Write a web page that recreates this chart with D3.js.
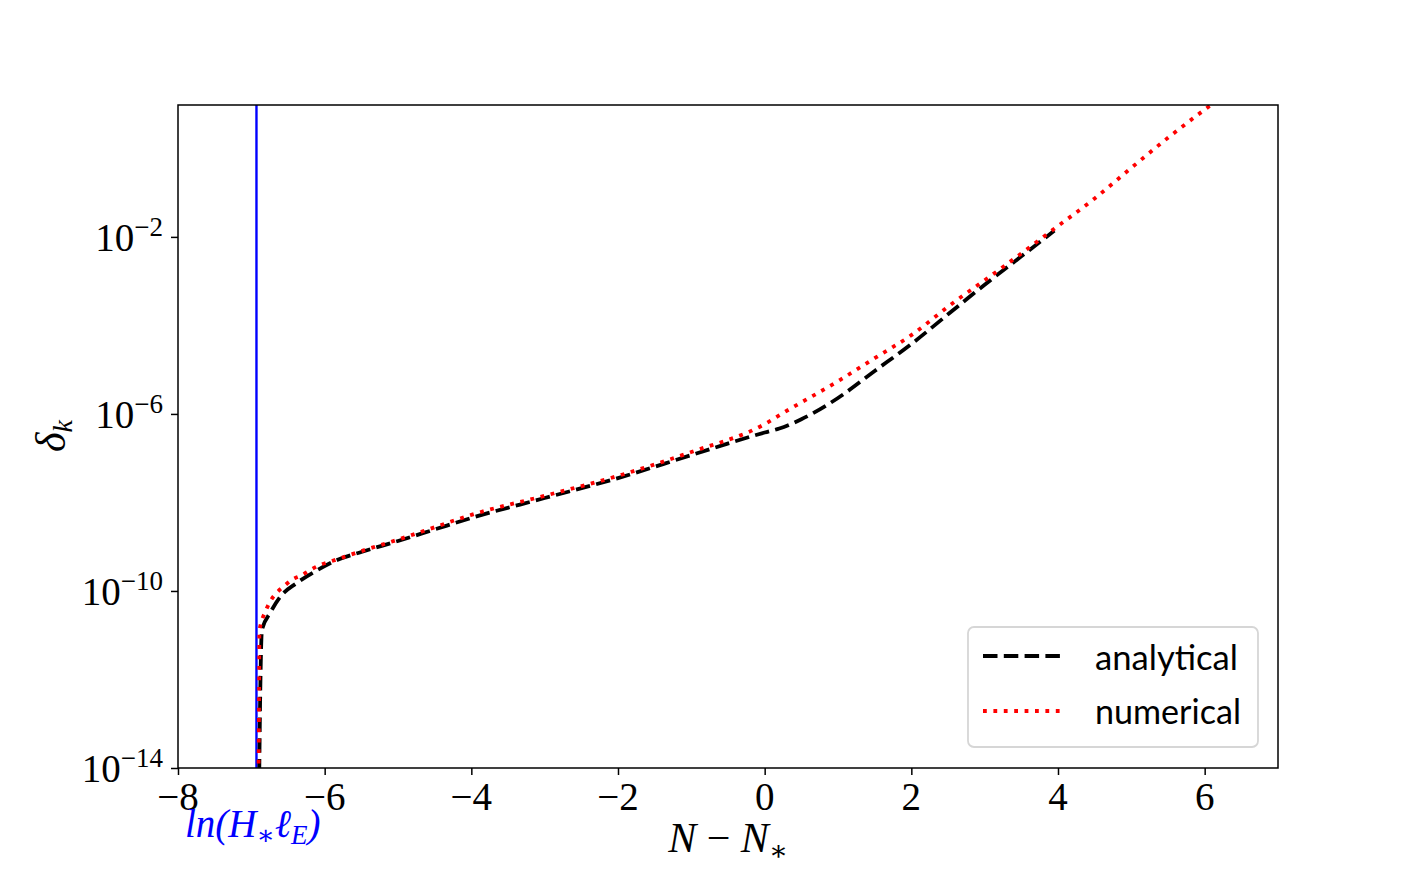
<!DOCTYPE html>
<html>
<head>
<meta charset="utf-8">
<script src="https://cdn.jsdelivr.net/npm/d3@7"></script>
<style>
  html, body { margin: 0; padding: 0; background: #fff; }
  svg { display: block; }
</style>
</head>
<body>
<svg id="chart" width="1420" height="878"></svg>
<script>
// ---- data ----
const analyticalX = [-6.895, -6.88, -6.855, -6.745, -6.61, -6.38, -6.10, -5.83, -5.5, -5.0, -4.5, -4.0, -3.0, -2.0, -1.0, 0.0, 0.2, 0.5, 1.0, 1.5, 2.0, 2.5, 3.0, 3.5, 3.95];
const analyticalLog10 = [-14.6, -12.46, -10.88, -10.50, -10.14, -9.82, -9.53, -9.30, -9.12, -8.87, -8.61, -8.35, -7.90, -7.45, -6.93, -6.42, -6.33, -6.12, -5.64, -5.03, -4.42, -3.75, -3.08, -2.44, -1.86];
const numericalX = [-6.905, -6.895, -6.89, -6.86, -6.81, -6.745, -6.66, -6.56, -6.45, -6.31, -6.20, -6.06, -5.93, -5.5, -5.0, -4.5, -4.0, -3.0, -2.0, -1.0, 0.0, 0.25, 1.03, 1.5, 2.0, 2.53, 3.25, 3.93, 4.5, 5.0, 5.5, 6.1];
const numericalLog10 = [-14.6, -12.46, -10.92, -10.69, -10.47, -10.24, -10.05, -9.90, -9.75, -9.64, -9.53, -9.41, -9.34, -9.10, -8.84, -8.56, -8.28, -7.85, -7.40, -6.86, -6.23, -5.98, -5.23, -4.74, -4.22, -3.54, -2.68, -1.84, -1.13, -0.44, 0.24, 1.0];
const markerX = -6.93;           // ln(H_* l_E)
const xTicks = [-8, -6, -4, -2, 0, 2, 4, 6];
const yTickExps = [-14, -10, -6, -2];
const legendLabels = ["analytical", "numerical"];

// ---- layout ----
const svg = d3.select("#chart");
const L = 178, R = 1278, T = 105, B = 768;
const x = d3.scaleLinear().domain([-8, 7]).range([L, R]);
const y = d3.scaleLog().domain([1e-14, Math.pow(10, 0.98)]).range([B, T]);
const serif = "'Liberation Serif', 'DejaVu Serif', serif";
const sans = "Lato, 'Open Sans', 'DejaVu Sans', sans-serif";

svg.append("defs").append("clipPath").attr("id", "clip")
  .append("rect").attr("x", L).attr("y", T).attr("width", R - L).attr("height", B - T);

const line = d3.line().curve(d3.curveMonotoneX)
  .x(d => x(d[0])).y(d => y(Math.pow(10, d[1])));
const plot = svg.append("g").attr("clip-path", "url(#clip)");

// blue vertical marker
plot.append("line")
  .attr("x1", x(markerX)).attr("x2", x(markerX))
  .attr("y1", T).attr("y2", B)
  .attr("stroke", "#0000ff").attr("stroke-width", 2.4);

plot.append("path")
  .datum(analyticalX.map((v, i) => [v, analyticalLog10[i]]))
  .attr("d", line).attr("fill", "none")
  .attr("stroke", "#000").attr("stroke-width", 3.8)
  .attr("stroke-dasharray", "14.5,6.3");

plot.append("path")
  .datum(numericalX.map((v, i) => [v, numericalLog10[i]]))
  .attr("d", line).attr("fill", "none")
  .attr("stroke", "#ff0000").attr("stroke-width", 3.8)
  .attr("stroke-dasharray", "3.8,6.6");

// axes
const xAxis = d3.axisBottom(x).tickValues(xTicks).tickSize(7).tickFormat("");
const gx = svg.append("g").attr("transform", `translate(0,${B})`).call(xAxis);
const yAxis = d3.axisLeft(y).tickValues(yTickExps.map(e => Math.pow(10, e))).tickSize(7).tickFormat("");
const gy = svg.append("g").attr("transform", `translate(${L},0)`).call(yAxis);
[gx, gy].forEach(g => {
  g.select(".domain").remove();
  g.selectAll(".tick line").attr("stroke", "#000").attr("stroke-width", 1.5);
});

// frame
svg.append("rect").attr("x", L).attr("y", T).attr("width", R - L).attr("height", B - T)
  .attr("fill", "none").attr("stroke", "#000").attr("stroke-width", 1.5);

// x tick labels
xTicks.forEach(t => {
  svg.append("text")
    .attr("x", x(t)).attr("y", 810)
    .attr("text-anchor", "middle")
    .attr("font-family", serif).attr("font-size", 39)
    .text(t < 0 ? "\u2212" + Math.abs(t) : String(t));
});

// y tick labels 10^e
yTickExps.forEach(e => {
  const ty = y(Math.pow(10, e));
  const t = svg.append("text")
    .attr("x", 163).attr("y", ty + 14)
    .attr("text-anchor", "end")
    .attr("font-family", serif).attr("font-size", 39);
  t.append("tspan").text("10");
  t.append("tspan").attr("font-size", 27).attr("dy", -15).text("\u2212" + Math.abs(e));
});

// axis labels
const xl = svg.append("text")
  .attr("x", 728).attr("y", 852).attr("text-anchor", "middle")
  .attr("font-family", serif).attr("font-size", 42);
xl.append("tspan").attr("font-style", "italic").text("N");
xl.append("tspan").text(" \u2212 ");
xl.append("tspan").attr("font-style", "italic").text("N");
xl.append("tspan").attr("font-size", 28).attr("dy", 8).text("\u2217");

const yl = svg.append("text")
  .attr("transform", "translate(65,436) rotate(-90)")
  .attr("text-anchor", "middle")
  .attr("font-family", serif).attr("font-size", 42);
yl.append("tspan").attr("font-style", "italic").text("\u03b4");
yl.append("tspan").attr("font-style", "italic").attr("font-size", 28).attr("dy", 7).text("k");

// blue annotation
const bl = svg.append("text")
  .attr("x", 185).attr("y", 837)
  .attr("font-family", serif).attr("font-size", 39).attr("fill", "#0000ff")
  .attr("font-style", "italic");
bl.append("tspan").text("ln(H");
bl.append("tspan").attr("font-size", 27).attr("dy", 7).text("\u2217");
bl.append("tspan").attr("dy", -7).text("\u2113");
bl.append("tspan").attr("font-size", 27).attr("dy", 7).text("E");
bl.append("tspan").attr("dy", -7).text(")");

// legend
const lg = svg.append("g");
lg.append("rect").attr("x", 968).attr("y", 627).attr("width", 290).attr("height", 120)
  .attr("rx", 6).attr("fill", "#fff").attr("fill-opacity", 0.8)
  .attr("stroke", "#d6d6d6").attr("stroke-width", 1.8);
lg.append("line").attr("x1", 983).attr("x2", 1060).attr("y1", 656).attr("y2", 656)
  .attr("stroke", "#000").attr("stroke-width", 3.8).attr("stroke-dasharray", "14.5,6.3");
lg.append("line").attr("x1", 983).attr("x2", 1060).attr("y1", 711).attr("y2", 711)
  .attr("stroke", "#ff0000").attr("stroke-width", 3.8).attr("stroke-dasharray", "3.8,6.6");
const targetW = [143, 146];
legendLabels.forEach((lab, i) => {
  const t = lg.append("text").attr("x", 1095).attr("y", i === 0 ? 670 : 724)
    .attr("font-family", sans).attr("font-size", 36).text(lab);
  const w = t.node().getComputedTextLength();
  if (w > 0) t.attr("font-size", 36 * targetW[i] / w);
});
</script>
</body>
</html>
